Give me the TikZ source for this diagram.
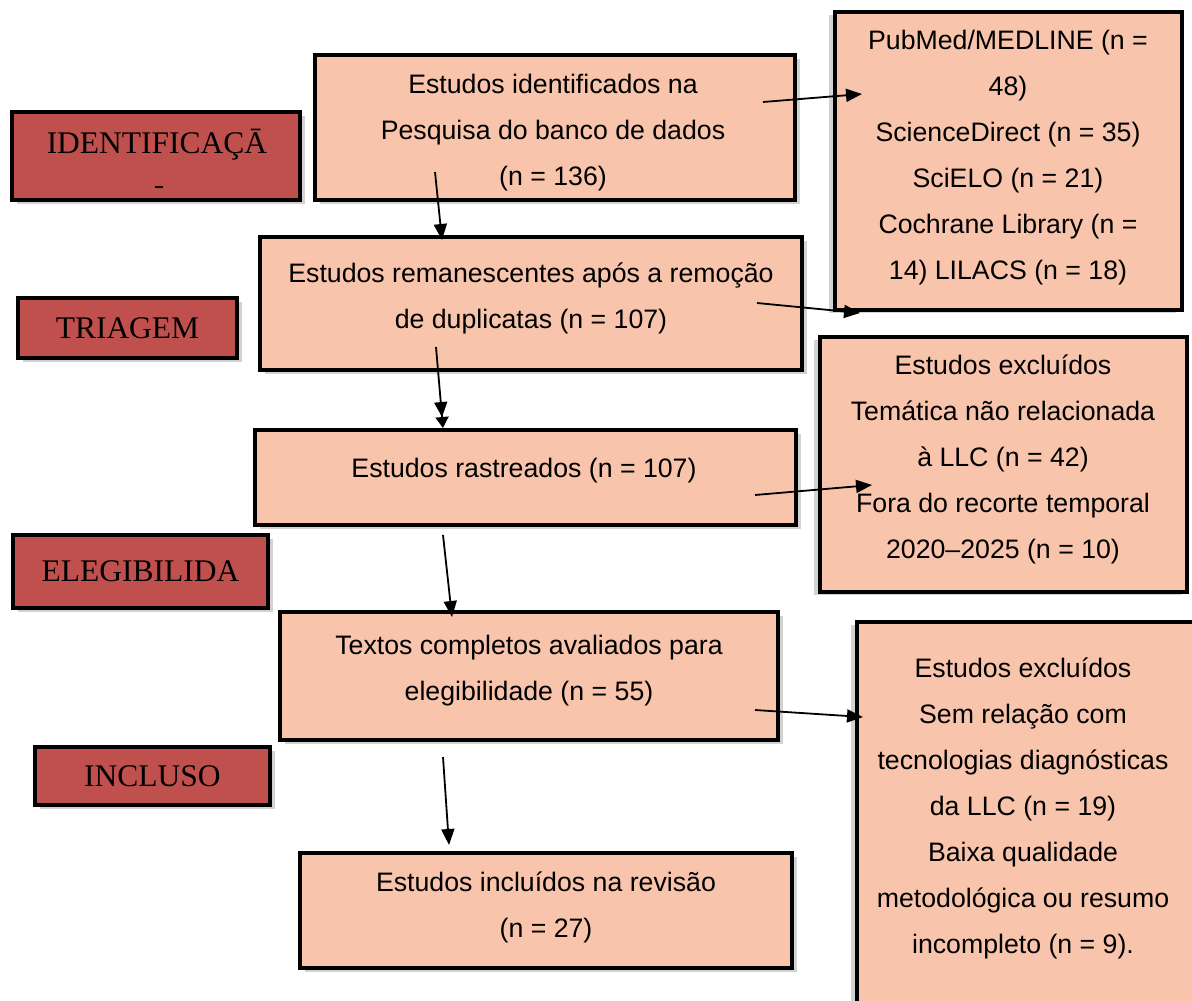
\documentclass[tikz,border=0pt]{standalone}
\usepackage{fontspec}
\setmainfont{Liberation Serif}
\newfontfamily\arialf{Liberation Sans}
\usetikzlibrary{arrows.meta,shadows}
\definecolor{peach}{RGB}{248,197,172}
\definecolor{redbox}{RGB}{192,80,77}
\begin{document}
\begin{tikzpicture}[x=1pt,y=-1pt,
  peachbox/.style={draw=black,line width=4pt,fill=peach,rectangle,inner sep=0pt},
  leftshadow/.style={drop shadow={shadow xshift=5pt,shadow yshift=-4pt,opacity=0.35}},
  rightshadow/.style={drop shadow={shadow xshift=-6pt,shadow yshift=-3pt,opacity=0.35}},
  redlabel/.style={draw=black,line width=4pt,fill=redbox,rectangle,inner sep=0pt,
    font=\fontsize{31.5}{38}\selectfont,text=black},
  boxtext/.style={align=center,inner sep=0pt,font=\arialf\fontsize{26.7}{46}\selectfont},
  arr/.style={line width=1.8pt,-{Triangle[length=16pt,width=13pt]}}]
\useasboundingbox (0,0) rectangle (1192,1001);
\fill[white] (0,0) rectangle (1192,1001);
\clip (0,0) rectangle (1192,1001);

% red stage labels
\node[redlabel,leftshadow,minimum width=288pt,minimum height=88pt] (rid) at (156,156) {};
\node[inner sep=0pt,font=\fontsize{31.5}{38}\selectfont] (tid) at (157,145) {IDENTIFICAÇĀ};
\draw[line width=1.5pt] (155,187) -- (163,187);
\node[redlabel,leftshadow,minimum width=219pt,minimum height=60pt] (rtr) at (127.5,328) {TRIAGEM};
\node[redlabel,leftshadow,minimum width=255pt,minimum height=73pt] (rel) at (140.5,571.5) {ELEGIBILIDA};
\node[redlabel,leftshadow,minimum width=235pt,minimum height=58pt] (rin) at (152.5,776) {INCLUSO};

% main column
\node[peachbox,leftshadow,minimum width=480pt,minimum height=145pt] (b1) at (555,127.5) {};
\node[boxtext] (t1) at (553,133) {Estudos identificados na\\Pesquisa do banco de dados\\(n = 136)};
\node[peachbox,leftshadow,minimum width=542pt,minimum height=133pt] (b2) at (531,303.5) {};
\node[boxtext] (t2) at (531,298) {Estudos remanescentes após a remoção\\de duplicatas (n = 107)};
\node[peachbox,leftshadow,minimum width=541pt,minimum height=95pt] (b3) at (525.5,477.5) {};
\node[boxtext] (t3) at (524,471) {Estudos rastreados (n = 107)};
\node[peachbox,leftshadow,minimum width=498pt,minimum height=128pt] (b4) at (529,676) {};
\node[boxtext] (t4) at (529,671) {Textos completos avaliados para\\elegibilidade (n = 55)};
\node[peachbox,leftshadow,minimum width=492pt,minimum height=115pt] (b5) at (546,910.5) {};
\node[boxtext] (t5) at (546,907) {Estudos incluídos na revisão\\(n = 27)};

% right column
\node[peachbox,rightshadow,minimum width=347pt,minimum height=298pt] (p1) at (1008.5,161) {};
\node[boxtext] (tp1) at (1008,158) {PubMed/MEDLINE (n =\\48)\\ScienceDirect (n = 35)\\SciELO (n = 21)\\Cochrane Library (n =\\14) LILACS (n = 18)};
\node[peachbox,rightshadow,minimum width=367pt,minimum height=255pt] (e1) at (1003.5,464.5) {};
\node[boxtext] (te1) at (1003,459) {Estudos excluídos\\Temática não relacionada\\à LLC (n = 42)\\Fora do recorte temporal\\2020–2025 (n = 10)};
\node[peachbox,rightshadow,minimum width=353pt,minimum height=398pt] (e2) at (1033.5,821) {};
\node[boxtext] (te2) at (1023,808) {Estudos excluídos\\Sem relação com\\tecnologias diagnósticas\\da LLC (n = 19)\\Baixa qualidade\\metodológica ou resumo\\incompleto (n = 9).};

% connectors
\coordinate (s1) at (763,102);  \coordinate (d1) at (862,94);
\coordinate (s2) at (757,303);  \coordinate (d2) at (860,313);
\coordinate (s3) at (435,172);  \coordinate (d3) at (442,240);
\coordinate (s4) at (436,347);  \coordinate (d4) at (443,428);
\coordinate (s5) at (443,535);  \coordinate (d5) at (452,617);
\coordinate (s6) at (443,757);  \coordinate (d6) at (449,845);
\coordinate (s7) at (755,495);  \coordinate (d7) at (872,485);
\coordinate (s8) at (755,710);  \coordinate (d8) at (863,717);
\draw[arr] (s1) -- (d1);
\draw[arr] (s2) -- (d2);
\draw[arr] (s3) -- (d3);
\draw[line width=1.8pt,-{Triangle[length=15pt,width=13pt]Triangle[length=11pt,width=13pt]}] (s4) -- (d4);
\draw[arr] (s5) -- (d5);
\draw[arr] (s6) -- (d6);
\draw[arr] (s7) -- (d7);
\draw[arr] (s8) -- (d8);
\end{tikzpicture}
\end{document}
